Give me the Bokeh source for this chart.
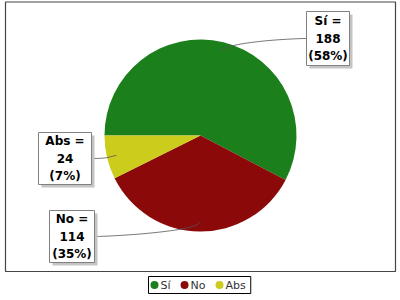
import math
from bokeh.plotting import figure
from bokeh.models import Range1d
from bokeh.core.properties import value
from bokeh.embed import file_html
from bokeh.resources import INLINE

# ---- data ----
categories = ["Sí", "No", "Abs"]
counts = [188, 114, 24]
colors = ["#1b7f1b", "#8b0909", "#cccc1c"]

total = sum(counts)
pcts = [round(100 * c / total) for c in counts]

W, H = 400, 300
def Y(py):
    return H - py

p = figure(width=W, height=H, x_range=Range1d(0, W), y_range=Range1d(0, H),
           output_backend="svg", toolbar_location=None, min_border=0,
           outline_line_color=None, background_fill_color="white",
           border_fill_color="white")
p.axis.visible = False
p.grid.visible = False

# plot-area border
p.quad(left=[5], right=[395], top=[Y(1.5)], bottom=[Y(271)], fill_color=None,
       line_color="#444444", line_width=1.2)

# pie
cx, cy, R = 200, Y(135), 96
starts, ends, mids = [], [], []
a = math.pi
for c in counts:
    th = 2 * math.pi * c / total
    starts.append(a)
    ends.append(a - th)
    mids.append(a - th / 2)
    a -= th
p.wedge(x=cx, y=cy, radius=R, start_angle=starts, end_angle=ends,
        direction="clock", fill_color=colors, line_color=None)

# label boxes (pixel layout): left, top, right, bottom
boxes = [(306, 11, 349, 65), (49, 210, 94, 262), (38, 132, 91, 184)]
for cat, cnt, pc, m, (l, t, r, b) in zip(categories, counts, pcts, mids, boxes):
    ax = cx + 0.9 * R * math.cos(m)
    ay = cy + 0.9 * R * math.sin(m)
    c0x = cx + 1.0 * R * math.cos(m)
    c0y = cy + 1.0 * R * math.sin(m)
    ey = Y((t + b) / 2)
    if math.cos(m) > 0:
        ex = l
        c1x = l - 16
    else:
        ex = r
        c1x = r + 16
    p.bezier(x0=[ax], y0=[ay], x1=[ex], y1=[ey], cx0=[c0x], cy0=[c0y],
             cx1=[c1x], cy1=[ey], line_color="#555555", line_width=0.8)
    # shadow
    p.quad(left=[l + 3], right=[r + 3], top=[Y(t + 3)], bottom=[Y(b + 3)],
           fill_color="#c4c4c4", line_color=None)
    p.quad(left=[l], right=[r], top=[Y(t)], bottom=[Y(b)],
           fill_color="white", line_color="#808080", line_width=1)
    p.text(x=[(l + r) / 2], y=[Y((t + b) / 2)],
           text=[f"{cat} =\n{cnt}\n({pc}%)"],
           text_align="center", text_baseline="middle",
           text_font=value("DejaVu Sans"), text_font_style="bold",
           text_font_size="12px", text_line_height=1.25, text_color="black")

# legend (manual)
cw = {"S": .635, "í": .278, "N": .748, "o": .612, "A": .684, "b": .635, "s": .521}
fs = 11
lx = 150.5
ly = Y(284.5)
item_x, text_x = [], []
x = lx
for cat in categories:
    item_x.append(x + 3.5)
    text_x.append(x + 9.5)
    tw = sum(cw.get(ch, 0.6) for ch in cat) * fs
    x = x + 9.5 + tw + 10.5
leg_right = text_x[-1] + sum(cw.get(ch, 0.6) for ch in categories[-1]) * fs + 5
p.quad(left=[148], right=[leg_right], top=[Y(276)], bottom=[Y(293)],
       fill_color="white", line_color="black", line_width=1)
p.scatter(x=item_x, y=[ly] * len(categories), size=8, marker="circle",
          fill_color=colors, line_color=None)
p.text(x=text_x, y=[ly] * len(categories), text=categories,
       text_align="left", text_baseline="middle",
       text_font=value("DejaVu Sans"), text_font_size=f"{fs}px",
       text_color="#333333")

open("out.html", "w").write(file_html(p, INLINE))
